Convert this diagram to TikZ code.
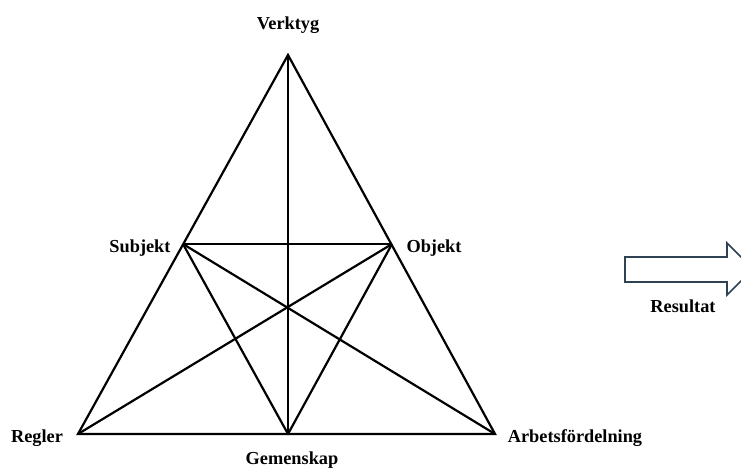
\documentclass[tikz,border=0pt]{standalone}
\usepackage{fontspec}
\setmainfont{Liberation Serif}
\begin{document}
\begin{tikzpicture}[x=1pt,y=-1pt,
  edge/.style={line width=2.2pt,line join=miter,black},
  lbl/.style={font=\fontsize{18.3}{22}\selectfont\bfseries,inner sep=0pt,anchor=base},
  bigarrow/.style={draw=arrowcol,fill=white,line width=1.6pt,line join=miter}]
\definecolor{arrowcol}{HTML}{2F4254}
\useasboundingbox (0,0) rectangle (741,470);
\coordinate (V) at (288,55);
\coordinate (R) at (78,434);
\coordinate (G) at (288,434);
\coordinate (A) at (495,434);
\coordinate (S) at (183,244);
\coordinate (O) at (392,244);
% outer triangle
\draw[edge] (V) -- (A) -- (R) -- cycle;
% inner lines
\draw[edge] (V) -- (G);
\draw[edge] (S) -- (O);
\draw[edge] (S) -- (A);
\draw[edge] (O) -- (R);
\draw[edge] (S) -- (G);
\draw[edge] (O) -- (G);
% labels
\node[lbl] (lV) at (288,30) {Verktyg};
\node[lbl] (lS) at (140,252) {Subjekt};
\node[lbl] (lO) at (434,252) {Objekt};
\node[lbl] (lR) at (37,442) {Regler};
\node[lbl] (lG) at (292,464.5) {Gemenskap};
\node[lbl] (lA) at (575,442) {Arbetsfördelning};
% result arrow
\draw[bigarrow] (625,257) -- (727,257) -- (727,243) -- (753,269) -- (727,295) -- (727,282) -- (625,282) -- cycle;
\node[lbl] (lRes) at (683,312) {Resultat};
\end{tikzpicture}
\end{document}
